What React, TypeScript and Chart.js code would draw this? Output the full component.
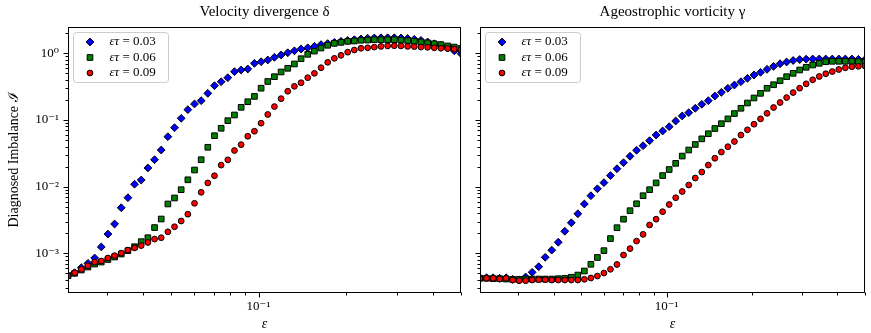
import React, { useEffect, useRef } from 'react';
import { Chart, registerables } from 'chart.js';

Chart.register(...registerables);

// ---------- data ----------
const EPSILON = [
  0.022, 0.0232, 0.02446, 0.02579, 0.02719, 0.02866, 0.03022, 0.03186, 0.03359, 0.03542,
  0.03734, 0.03937, 0.04151, 0.04377, 0.04615, 0.04866, 0.0513, 0.05409, 0.05703, 0.06013,
  0.0634, 0.06684, 0.07048, 0.07431, 0.07835, 0.08261, 0.0871, 0.09183, 0.09682, 0.10209,
  0.10764, 0.11349, 0.11966, 0.12616, 0.13302, 0.14025, 0.14788, 0.15592, 0.16439, 0.17333,
  0.18275, 0.19268, 0.20316, 0.2142, 0.22584, 0.23812, 0.25107, 0.26471, 0.2791, 0.29428,
  0.31028, 0.32714, 0.34493, 0.36368, 0.38345, 0.4043, 0.42627, 0.44945, 0.47388, 0.5,
];

const SERIES_LABELS = ['ετ = 0.03', 'ετ = 0.06', 'ετ = 0.09'];

// Velocity divergence δ
const DIV_TAU_003 = [
  4.63e-4, 5.14e-4, 6.11e-4, 7.11e-4, 8.53e-4, 1.25e-3, 1.95e-3, 2.76e-3, 4.84e-3, 6.84e-3,
  1.09e-2, 1.26e-2, 1.91e-2, 2.54e-2, 3.55e-2, 5.62e-2, 7.67e-2, 0.106, 0.143, 0.174,
  0.195, 0.251, 0.327, 0.375, 0.431, 0.53, 0.562, 0.582, 0.708, 0.748,
  0.794, 0.871, 0.944, 1.02, 1.09, 1.16, 1.21, 1.27, 1.35, 1.4,
  1.46, 1.51, 1.56, 1.6, 1.64, 1.68, 1.7, 1.71, 1.71, 1.71,
  1.7, 1.67, 1.62, 1.56, 1.48, 1.39, 1.31, 1.2, 1.09, 0.99,
];
const DIV_TAU_006 = [
  4.63e-4, 5.04e-4, 5.64e-4, 6.25e-4, 6.93e-4, 7.43e-4, 8.11e-4, 8.83e-4, 9.79e-4, 1.1e-3,
  1.26e-3, 1.5e-3, 1.72e-3, 2.44e-3, 3.28e-3, 5.51e-3, 6.78e-3, 9.02e-3, 1.27e-2, 1.78e-2,
  2.54e-2, 3.9e-2, 5.82e-2, 7.52e-2, 9.77e-2, 0.119, 0.155, 0.188, 0.226, 0.3,
  0.378, 0.446, 0.525, 0.596, 0.692, 0.83, 0.966, 1.08, 1.2, 1.32,
  1.41, 1.46, 1.51, 1.53, 1.57, 1.58, 1.6, 1.6, 1.6, 1.6,
  1.58, 1.55, 1.51, 1.48, 1.43, 1.39, 1.35, 1.29, 1.24, 1.19,
];
const DIV_TAU_009 = [
  4.63e-4, 5.14e-4, 5.78e-4, 6.55e-4, 7.43e-4, 7.69e-4, 8.53e-4, 9.25e-4, 1.01e-3, 1.12e-3,
  1.21e-3, 1.31e-3, 1.46e-3, 1.64e-3, 1.72e-3, 2.11e-3, 2.51e-3, 3.06e-3, 3.87e-3, 5.64e-3,
  8.24e-3, 1.14e-2, 1.46e-2, 2.11e-2, 2.53e-2, 3.49e-2, 4.27e-2, 5.71e-2, 6.79e-2, 8.96e-2,
  0.121, 0.159, 0.209, 0.27, 0.32, 0.362, 0.431, 0.501, 0.608, 0.733,
  0.841, 0.933, 1.04, 1.12, 1.19, 1.21, 1.24, 1.27, 1.29, 1.3,
  1.29, 1.27, 1.26, 1.24, 1.23, 1.21, 1.19, 1.18, 1.16, 1.13,
];

// Ageostrophic vorticity γ
const VORT_TAU_003 = [
  4.32e-4, 4.32e-4, 4.32e-4, 4.24e-4, 4.32e-4, 4.09e-4, 3.99e-4, 4.43e-4, 5.21e-4, 6.32e-4,
  8.75e-4, 1.12e-3, 1.47e-3, 2.15e-3, 2.88e-3, 3.93e-3, 5.51e-3, 7.33e-3, 9.31e-3, 1.15e-2,
  1.47e-2, 1.86e-2, 2.29e-2, 2.86e-2, 3.52e-2, 4.12e-2, 4.9e-2, 5.96e-2, 6.84e-2, 7.94e-2,
  9.66e-2, 0.115, 0.129, 0.15, 0.172, 0.195, 0.229, 0.26, 0.299, 0.335,
  0.375, 0.422, 0.473, 0.519, 0.575, 0.638, 0.698, 0.741, 0.78, 0.807,
  0.816, 0.822, 0.822, 0.822, 0.822, 0.822, 0.822, 0.822, 0.813, 0.802,
];
const VORT_TAU_006 = [
  4.24e-4, 4.24e-4, 4.18e-4, 4.18e-4, 4.13e-4, 4.09e-4, 4.09e-4, 4.13e-4, 4.13e-4, 4.13e-4,
  4.13e-4, 4.13e-4, 4.18e-4, 4.24e-4, 4.39e-4, 4.74e-4, 5.45e-4, 6.87e-4, 8.69e-4, 1.1e-3,
  1.67e-3, 2.43e-3, 3.26e-3, 4.37e-3, 5.55e-3, 7.33e-3, 9.02e-3, 1.14e-2, 1.47e-2, 1.81e-2,
  2.24e-2, 2.88e-2, 3.55e-2, 4.3e-2, 5.22e-2, 6.23e-2, 7.46e-2, 8.81e-2, 0.104, 0.125,
  0.15, 0.18, 0.214, 0.251, 0.299, 0.338, 0.388, 0.446, 0.501, 0.562,
  0.617, 0.668, 0.708, 0.748, 0.759, 0.759, 0.759, 0.759, 0.748, 0.741,
];
const VORT_TAU_009 = [
  4.24e-4, 4.24e-4, 4.24e-4, 4.13e-4, 4.24e-4, 3.99e-4, 3.9e-4, 3.9e-4, 3.99e-4, 4.04e-4,
  4.04e-4, 3.99e-4, 3.99e-4, 3.99e-4, 3.99e-4, 3.99e-4, 4.09e-4, 4.28e-4, 4.58e-4, 5.08e-4,
  5.78e-4, 6.82e-4, 9.46e-4, 1.18e-3, 1.53e-3, 1.93e-3, 2.67e-3, 3.26e-3, 4.22e-3, 5.41e-3,
  6.84e-3, 8.47e-3, 1.06e-2, 1.35e-2, 1.66e-2, 2.11e-2, 2.67e-2, 3.31e-2, 3.98e-2, 4.76e-2,
  5.96e-2, 7.13e-2, 8.65e-2, 0.104, 0.126, 0.154, 0.183, 0.217, 0.258, 0.3,
  0.349, 0.401, 0.449, 0.494, 0.533, 0.572, 0.607, 0.63, 0.638, 0.645,
];

const X_MIN = 0.022;
const X_MAX = 0.5;
const Y_MIN = 2.55e-4;
const Y_MAX = 2.48;

const PANEL_TITLES = ['Velocity divergence δ', 'Ageostrophic vorticity γ'];
const Y_TITLE = 'Diagnosed Imbalance ℐ';
const X_TITLE = 'ε';

// ---------- styling ----------
const FONT = "'Liberation Serif', 'DejaVu Serif', serif";
const SERIES_STYLE = [
  { color: '#0000ff', pointStyle: 'rectRot', radius: 3.9 },
  { color: '#008000', pointStyle: 'rect', radius: 4.0 },
  { color: '#ff0000', pointStyle: 'circle', radius: 2.9 },
];

const SUP: Record<string, string> = {
  '-': '⁻', '0': '⁰', '1': '¹', '2': '²', '3': '³', '4': '⁴', '5': '⁵', '6': '⁶', '7': '⁷', '8': '⁸', '9': '⁹',
};

function powLabel(v: number): string {
  const l = Math.log10(v);
  const r = Math.round(l);
  if (Math.abs(l - r) > 1e-6) return '';
  return '10' + String(r).split('').map((c) => SUP[c] || c).join('');
}

function logTicks(min: number, max: number) {
  const out: { v: number; major: boolean }[] = [];
  for (let d = Math.floor(Math.log10(min)); d <= Math.ceil(Math.log10(max)); d++) {
    for (let k = 1; k <= 9; k++) {
      const v = k * Math.pow(10, d);
      if (v >= min * 0.9999 && v <= max * 1.0001) out.push({ v, major: k === 1 });
    }
  }
  return out;
}

const frameAndTicks = {
  id: 'frameAndTicks',
  afterDatasetsDraw(chart: any) {
    const { ctx, chartArea: ca, scales } = chart;
    const L = Math.round(ca.left) + 0.5;
    const R = Math.round(ca.right) - 0.5;
    const T = Math.round(ca.top) + 0.5;
    const B = Math.round(ca.bottom) - 0.5;
    ctx.save();
    ctx.strokeStyle = '#000';
    ctx.lineWidth = 1;
    ctx.strokeRect(L, T, R - L, B - T);
    ctx.beginPath();
    for (const t of logTicks(X_MIN, X_MAX)) {
      const px = Math.round(scales.x.getPixelForValue(t.v)) + 0.5;
      ctx.moveTo(px, B);
      ctx.lineTo(px, B + (t.major ? 5 : 3));
    }
    for (const t of logTicks(Y_MIN, Y_MAX)) {
      const py = Math.round(scales.y.getPixelForValue(t.v)) + 0.5;
      ctx.moveTo(L, py);
      ctx.lineTo(L - (t.major ? 5 : 3), py);
    }
    ctx.stroke();
    ctx.restore();
  },
};

function drawMarker(ctx: CanvasRenderingContext2D, style: string, x: number, y: number, r: number, color: string) {
  ctx.beginPath();
  if (style === 'rectRot') {
    ctx.moveTo(x - r, y);
    ctx.lineTo(x, y - r);
    ctx.lineTo(x + r, y);
    ctx.lineTo(x, y + r);
    ctx.closePath();
  } else if (style === 'rect') {
    const s = r * Math.SQRT1_2;
    ctx.rect(x - s, y - s, 2 * s, 2 * s);
  } else {
    ctx.arc(x, y, r, 0, Math.PI * 2);
  }
  ctx.fillStyle = color;
  ctx.fill();
  ctx.strokeStyle = '#000';
  ctx.lineWidth = 1;
  ctx.stroke();
}

const boxLegend = {
  id: 'boxLegend',
  afterDraw(chart: any) {
    const { ctx, chartArea: ca } = chart;
    const x0 = Math.round(ca.left) + 5.5;
    const y0 = Math.round(ca.top) + 5.5;
    const w = 95;
    const h = 50;
    const r = 3;
    ctx.save();
    ctx.beginPath();
    ctx.moveTo(x0 + r, y0);
    ctx.arcTo(x0 + w, y0, x0 + w, y0 + h, r);
    ctx.arcTo(x0 + w, y0 + h, x0, y0 + h, r);
    ctx.arcTo(x0, y0 + h, x0, y0, r);
    ctx.arcTo(x0, y0, x0 + w, y0, r);
    ctx.closePath();
    ctx.fillStyle = 'rgba(255,255,255,0.85)';
    ctx.fill();
    ctx.strokeStyle = '#cccccc';
    ctx.lineWidth = 1;
    ctx.stroke();
    chart.data.datasets.forEach((ds: any, i: number) => {
      const cy = y0 + 9.5 + i * 15.5;
      drawMarker(ctx, ds.pointStyle, x0 + 16.5, cy, ds.pointRadius, ds.backgroundColor);
      const label: string = ds.label;
      const sp = label.indexOf(' ');
      const head = label.slice(0, sp);
      const tail = label.slice(sp);
      ctx.fillStyle = '#000';
      ctx.textBaseline = 'middle';
      ctx.textAlign = 'left';
      ctx.font = `italic 13px ${FONT}`;
      const tx = x0 + 36;
      ctx.fillText(head, tx, cy);
      const hw = ctx.measureText(head).width;
      ctx.font = `13px ${FONT}`;
      ctx.fillText(tail, tx + hw, cy);
    });
    ctx.restore();
  },
};

type PanelProps = {
  title: string;
  series: number[][];
  left: number;
  width: number;
  yAxisWidth: number;
  padRight: number;
  showY: boolean;
};

function Panel({ title, series, left, width, yAxisWidth, padRight, showY }: PanelProps) {
  const ref = useRef<HTMLCanvasElement>(null);
  useEffect(() => {
    const datasets = series.map((vals, i) => ({
      label: SERIES_LABELS[i],
      data: EPSILON.map((x, j) => ({ x, y: vals[j] })),
      showLine: false,
      pointStyle: SERIES_STYLE[i].pointStyle,
      pointRadius: SERIES_STYLE[i].radius,
      pointHoverRadius: SERIES_STYLE[i].radius,
      backgroundColor: SERIES_STYLE[i].color,
      borderColor: '#000',
      pointBorderWidth: 1,
      borderWidth: 1,
      order: 2 - i,
    }));
    const chart = new Chart(ref.current as HTMLCanvasElement, {
      type: 'scatter',
      data: { datasets } as any,
      options: {
        animation: false,
        responsive: false,
        maintainAspectRatio: false,
        devicePixelRatio: 1,
        events: [],
        layout: { padding: { left: 0, right: padRight, top: 0, bottom: 0 } },
        font: { family: FONT },
        plugins: {
          legend: { display: false },
          tooltip: { enabled: false },
          title: {
            display: true,
            text: title,
            fullSize: false,
            color: '#000',
            font: { family: FONT, size: 15, weight: 'normal' },
            padding: { top: 3, bottom: 6 },
          },
        },
        scales: {
          x: {
            type: 'logarithmic',
            min: X_MIN,
            max: X_MAX,
            grid: { display: false, drawTicks: false },
            border: { display: false },
            ticks: {
              autoSkip: false,
              maxRotation: 0,
              padding: 6,
              color: '#000',
              font: { family: FONT, size: 13 },
              callback: (v: any) => powLabel(Number(v)),
            },
            title: {
              display: true,
              text: X_TITLE,
              color: '#000',
              font: { family: FONT, size: 14, style: 'italic' },
              padding: { top: 0, bottom: 0 },
            },
            afterFit: (s: any) => {
              s.height = 40;
            },
          },
          y: {
            type: 'logarithmic',
            min: Y_MIN,
            max: Y_MAX,
            grid: { display: false, drawTicks: false },
            border: { display: false },
            ticks: {
              autoSkip: false,
              padding: 9,
              color: '#000',
              font: { family: FONT, size: 13 },
              callback: (v: any) => (showY ? powLabel(Number(v)) : ''),
            },
            title: {
              display: showY,
              text: Y_TITLE,
              color: '#000',
              font: { family: FONT, size: 14 },
              padding: { top: 6, bottom: 0 },
            },
            afterFit: (s: any) => {
              s.width = yAxisWidth;
            },
          },
        },
      } as any,
      plugins: [frameAndTicks, boxLegend],
    });
    return () => chart.destroy();
  }, []);
  return (
    <canvas
      ref={ref}
      width={width}
      height={333}
      style={{ position: 'absolute', left, top: 0, width, height: 333 }}
    />
  );
}

export default function App() {
  return (
    <div style={{ position: 'absolute', left: 0, top: 0, width: 871, height: 333, background: '#fff', overflow: 'hidden' }}>
      <Panel
        title={PANEL_TITLES[0]}
        series={[DIV_TAU_003, DIV_TAU_006, DIV_TAU_009]}
        left={0}
        width={470}
        yAxisWidth={68}
        padRight={9}
        showY={true}
      />
      <Panel
        title={PANEL_TITLES[1]}
        series={[VORT_TAU_003, VORT_TAU_006, VORT_TAU_009]}
        left={470}
        width={401}
        yAxisWidth={10}
        padRight={1}
        showY={false}
      />
    </div>
  );
}
